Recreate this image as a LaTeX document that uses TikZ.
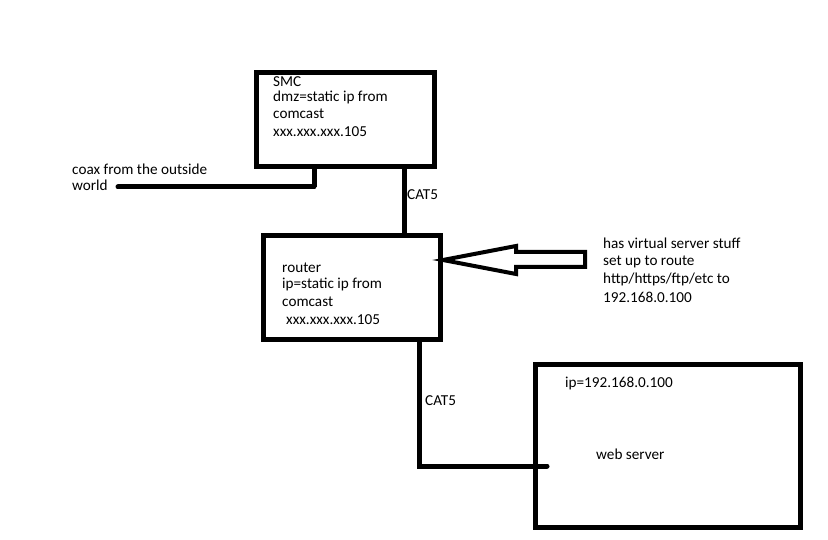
\documentclass[tikz,border=0pt]{standalone}
\usepackage{fontspec}
\setmainfont{Carlito}
\usetikzlibrary{positioning}

\begin{document}
\begin{tikzpicture}[x=1pt,y=-1pt,
						box/.style={draw,line width=5pt,inner sep=0pt},
						wire/.style={line width=5pt,line cap=round},
						txt/.style={anchor=base west,inner sep=0pt,align=left,font=\fontsize{15.2}{18}\selectfont}]
		\fill[white] (0,0) rectangle (828,540);
		\useasboundingbox (0,0) rectangle (828,540);

		\node[box,minimum width=178pt,minimum height=94.5pt]	(smc)		at (345.5,119.75)	{};
		\node[box,minimum width=176.5pt,minimum height=104pt]	(router)	at (351.75,288)	{};
		\node[box,minimum width=265pt,minimum height=163pt]	(server)	at (668,446)	{};

		% multi-line texts sit on the baseline of their last line
		\node[txt]	(smctext)		at (273,137)	{SMC\\[-3pt]dmz=static ip from\\[-1pt]comcast\\xxx.xxx.xxx.105};
		\node[txt]	(coaxtext)		at (72,191)	{coax from the outside\\[-2pt]world};
		\node[txt]	(routertext)	at (282,325)	{router\\[-1pt]ip=static ip from\\comcast\\\hspace{4pt}xxx.xxx.xxx.105};
		\node[txt]	(note)			at (603,302)	{has virtual server stuff\\set up to route\\http/https/ftp/etc to\\192.168.0.100};
		\node[txt]	(cat1)			at (407,200)	{CAT5};
		\node[txt]	(cat2)			at (425,405)	{CAT5};
		\node[txt]	(serverip)		at (565,388)	{ip=192.168.0.100};
		\node[txt]	(servertext)	at (596,459)	{web server};

		\coordinate (coaxend)	at (118,187);
		\coordinate (coaxjoin)	at (314,187);
		\coordinate (uplink)	at (404,0);
		\coordinate (bend)		at (419,466);
		\coordinate (lanend)	at (547,466);

		\draw[wire] (coaxend) -- (coaxjoin);
		\draw[line width=5pt] (coaxjoin) -- (coaxjoin |- smc.south);
		\draw[line width=5pt] (smc.south -| uplink) -- (router.north -| uplink);
		\draw[wire] (router.south -| bend) -- (bend) -- (lanend);

		\draw[line width=4pt] (585,252) -- (516,252) -- (516,246) -- (443,260) -- (516,274) -- (516,267) -- (585,267) -- cycle;
	\end{tikzpicture}
\end{document}
